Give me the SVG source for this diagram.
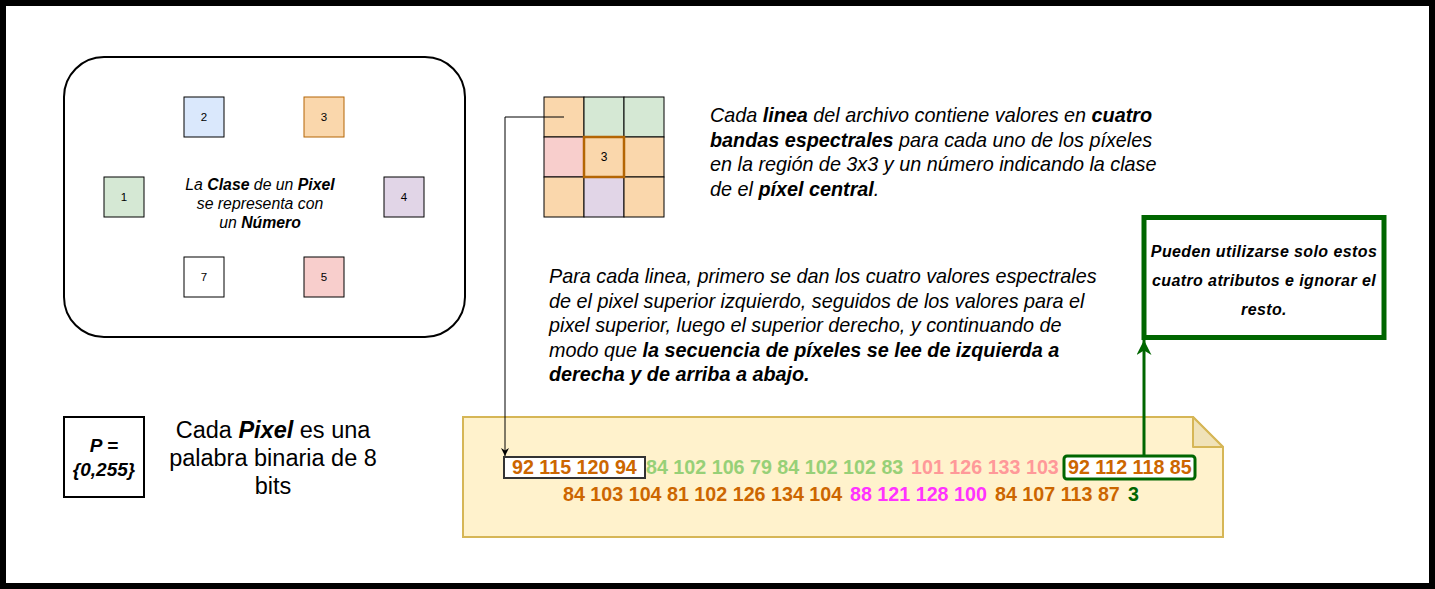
<svg xmlns="http://www.w3.org/2000/svg" width="1435" height="589" viewBox="0 0 1435 589">
<defs>
<style>
text{font-family:"Liberation Sans",Arial,sans-serif;fill:#000}
.sq{stroke:#000;stroke-width:1}
.num{font-size:11.5px;text-anchor:middle;dominant-baseline:central}
.it{font-style:italic}
.b{font-weight:bold}
.big{font-size:19.8px;font-style:italic}
.seq{font-size:19.7px;font-weight:bold}
.or{fill:#CC6600}
.gr{fill:#97D077}
.pk{fill:#FF9999}
.mg{fill:#FF33FF}
.dg{fill:#006600}
</style>
<marker id="arrBlack" viewBox="0 0 10 10" refX="10" refY="5" markerWidth="8" markerHeight="8" markerUnits="userSpaceOnUse" orient="auto">
<path d="M0,0 L10,5 L0,10 L3,5 Z" fill="#000"/>
</marker>
<marker id="arrGreen" viewBox="0 0 10 10" refX="10" refY="5" markerWidth="15" markerHeight="15" markerUnits="userSpaceOnUse" orient="auto">
<path d="M0,0 L10,5 L0,10 L3,5 Z" fill="#006600"/>
</marker>
</defs>
<rect x="0" y="0" width="1435" height="589" fill="#fff"/>
<rect id="frame" x="3" y="3" width="1429" height="583" fill="none" stroke="#000" stroke-width="6"/>

<g id="classBox">
<rect x="64" y="57" width="401" height="280" rx="40" ry="40" fill="#fff" stroke="#000" stroke-width="2"/>
<text x="260" y="189.5" font-size="15.8" class="it" text-anchor="middle">La <tspan class="b">Clase</tspan> de un <tspan class="b">Pixel</tspan></text>
<text x="260" y="208.8" font-size="15.8" class="it" text-anchor="middle">se representa con</text>
<text x="260" y="227.8" font-size="15.8" class="it" text-anchor="middle">un <tspan class="b">Número</tspan></text>
</g>
<g id="class2"><rect class="sq" x="184" y="97" width="40" height="40" fill="#dae8fc"/><text class="num" x="204" y="117">2</text></g>
<g id="class3"><rect x="304" y="97" width="40" height="40" fill="#fad7ac" stroke="#b46504"/><text class="num" x="324" y="117">3</text></g>
<g id="class1"><rect class="sq" x="104" y="177" width="40" height="40" fill="#d5e8d4"/><text class="num" x="124" y="197">1</text></g>
<g id="class4"><rect class="sq" x="384" y="177" width="40" height="40" fill="#e1d5e7"/><text class="num" x="404" y="197">4</text></g>
<g id="class7"><rect class="sq" x="184" y="257" width="40" height="40" fill="#fff"/><text class="num" x="204" y="277">7</text></g>
<g id="class5"><rect class="sq" x="304" y="257" width="40" height="40" fill="#f8cecc"/><text class="num" x="324" y="277">5</text></g>

<g id="grid">
<rect class="sq" x="544" y="97" width="40" height="40" fill="#fad7ac"/>
<rect class="sq" x="584" y="97" width="40" height="40" fill="#d5e8d4"/>
<rect class="sq" x="624" y="97" width="40" height="40" fill="#d5e8d4"/>
<rect class="sq" x="544" y="137" width="40" height="40" fill="#f8cecc"/>
<rect class="sq" x="624" y="137" width="40" height="40" fill="#fad7ac"/>
<rect class="sq" x="544" y="177" width="40" height="40" fill="#fad7ac"/>
<rect class="sq" x="584" y="177" width="40" height="40" fill="#e1d5e7"/>
<rect class="sq" x="624" y="177" width="40" height="40" fill="#fad7ac"/>
<rect x="584" y="137" width="40" height="40" fill="#fad7ac" stroke="#b46504" stroke-width="2.5"/>
<text x="604" y="157" font-size="12" text-anchor="middle" dominant-baseline="central">3</text>
</g>

<g id="desc1">
<text class="big" x="710" y="122">Cada <tspan class="b">linea</tspan> del archivo contiene valores en <tspan class="b">cuatro</tspan></text>
<text class="big" x="710" y="146.5"><tspan class="b">bandas espectrales</tspan> para cada uno de los píxeles</text>
<text class="big" x="710" y="171">en la región de 3x3 y un número indicando la clase</text>
<text class="big" x="710" y="195.5">de el <tspan class="b">píxel central</tspan>.</text>
</g>

<g id="desc2">
<text class="big" x="549" y="283">Para cada linea, primero se dan los cuatro valores espectrales</text>
<text class="big" x="549" y="307.5">de el pixel superior izquierdo, seguidos de los valores para el</text>
<text class="big" x="549" y="332">pixel superior, luego el superior derecho, y continuando de</text>
<text class="big" x="549" y="356.5">modo que <tspan class="b">la secuencia de píxeles se lee de izquierda a</tspan></text>
<text class="big b" x="549" y="381">derecha y de arriba a abajo.</text>
</g>

<g id="attrNote">
<rect x="1144" y="217.5" width="240" height="120" fill="#fff" stroke="#006600" stroke-width="5"/>
<text x="1264" y="256.5" font-size="16" class="it b" text-anchor="middle" letter-spacing="0.4">Pueden utilizarse solo estos</text>
<text x="1264" y="285.5" font-size="16" class="it b" text-anchor="middle" letter-spacing="0.4">cuatro atributos e ignorar el</text>
<text x="1264" y="314.5" font-size="16" class="it b" text-anchor="middle" letter-spacing="0.4">resto.</text>
</g>

<g id="pBox">
<rect x="64" y="417" width="80" height="80" fill="#fff" stroke="#000" stroke-width="2"/>
<text x="104" y="452" font-size="19" class="it b" text-anchor="middle">P =</text>
<text x="104" y="475.5" font-size="19" class="it b" text-anchor="middle">{0,255}</text>
</g>

<g id="pixelText">
<text x="273" y="438" font-size="23.5" text-anchor="middle">Cada <tspan class="it b">Pixel</tspan> es una</text>
<text x="273" y="466" font-size="23.5" text-anchor="middle">palabra binaria de 8</text>
<text x="273" y="494" font-size="23.5" text-anchor="middle">bits</text>
</g>

<g id="dataNote">
<path d="M463,417 H1193 L1223,447 V537 H463 Z" fill="#fff2cc" stroke="#d6b656" stroke-width="2"/>
<path d="M1193,417 V447 H1223 Z" fill="#f0e2b8" stroke="#d6b656" stroke-width="2" stroke-linejoin="round"/>
</g>

<g id="firstPixel">
<rect x="504" y="457" width="141" height="21" fill="#fff" stroke="#333" stroke-width="2"/>
</g>
<g id="centerPixel">
<rect x="1064" y="456" width="131" height="23" rx="3" fill="#fff" stroke="#006600" stroke-width="3"/>
</g>

<g id="sequence">
<text class="seq or" x="512" y="473.5">92 115 120 94</text>
<text class="seq gr" x="646" y="473.5">84 102 106 79 84 102 102 83</text>
<text class="seq pk" x="911" y="473.5">101 126 133 103</text>
<text class="seq or" x="1068" y="473.5">92 112 118 85</text>
<text class="seq or" x="563" y="500.5">84 103 104 81 102 126 134 104</text>
<text class="seq mg" x="850" y="500.5">88 121 128 100</text>
<text class="seq or" x="995" y="500.5">84 107 113 87</text>
<text class="seq dg" x="1128" y="500.5" font-size="23">3</text>
</g>

<g id="connectors">
<path d="M564,117 H505 V456" fill="none" stroke="#000" stroke-width="1" marker-end="url(#arrBlack)"/>
<path d="M1144,455 V340" fill="none" stroke="#006600" stroke-width="3" marker-end="url(#arrGreen)"/>
</g>
</svg>
